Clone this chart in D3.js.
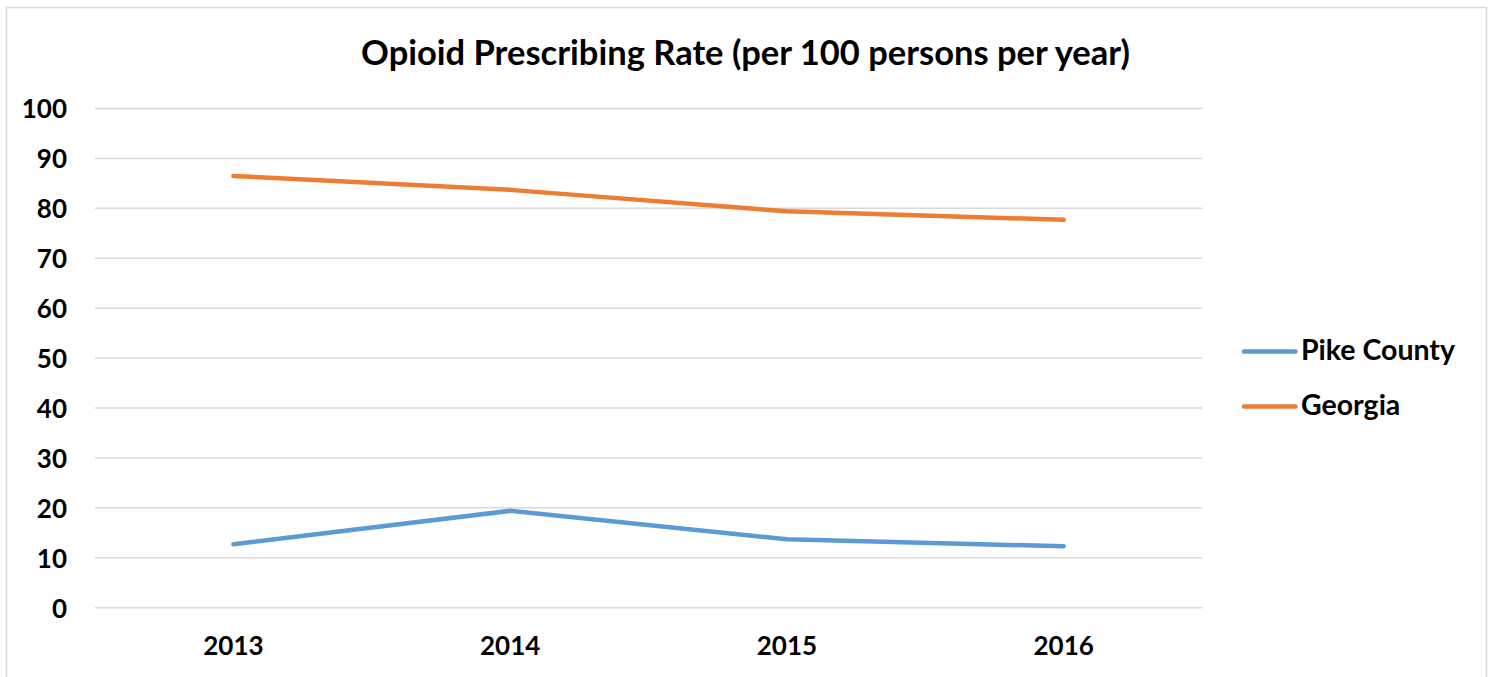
<!DOCTYPE html>
<html><head><meta charset="utf-8">
<script src="https://cdn.jsdelivr.net/npm/d3@7"></script>
<style>body{margin:0;background:#fff;} text{font-family:Lato,"Open Sans",sans-serif;font-weight:bold;fill:#000;}</style>
</head><body>
<svg id="c" width="1494" height="677"></svg>
<script>
const years = ["2013","2014","2015","2016"];
const pikeCounty = [12.7, 19.4, 13.7, 12.3];
const georgia = [86.5, 83.7, 79.4, 77.7];
const yTicks = [0,10,20,30,40,50,60,70,80,90,100];
const seriesNames = ["Pike County","Georgia"];
const seriesColors = ["#5B9BD5","#ED7D31"];
const title = "Opioid Prescribing Rate (per 100 persons per year)";

const svg = d3.select("#c");
svg.append("rect").attr("x",6.5).attr("y",7.5).attr("width",1480).attr("height",700)
  .attr("fill","#fff").attr("stroke","#d9d9d9").attr("stroke-width",1.5);

const x = d3.scaleBand().domain(years).range([95,1202]);
const y = d3.scaleLinear().domain([0,100]).range([607.7,108.5]);

svg.append("text").attr("x",745.5).attr("y",65).attr("text-anchor","middle")
  .style("font-size","34.5px").text(title);

const grid = svg.append("g");
grid.selectAll("line").data(yTicks).join("line")
  .attr("x1",95).attr("x2",1202).attr("y1",d=>y(d)).attr("y2",d=>y(d))
  .attr("stroke","#d9d9d9").attr("stroke-width",1.5);

const yAxis = svg.append("g").attr("transform","translate(95,0)")
  .call(d3.axisLeft(y).tickValues(yTicks).tickSize(0).tickPadding(28));
yAxis.select(".domain").remove();
yAxis.selectAll("text").style("font-size","26px").style("font-family","Lato").style("font-weight","bold").attr("dy","0.36em");

const xAxis = svg.append("g").attr("transform","translate(0,607.7)")
  .call(d3.axisBottom(x).tickSize(0));
xAxis.select(".domain").remove();
xAxis.selectAll("text").style("font-size","26px").style("font-family","Lato").style("font-weight","bold")
  .attr("y",47.3).attr("dy","0");

const line = d3.line().x((d,i)=>x(years[i])+x.bandwidth()/2).y(d=>y(d));
[pikeCounty, georgia].forEach((s,i)=>{
  svg.append("path").attr("d",line(s)).attr("fill","none")
    .attr("stroke",seriesColors[i]).attr("stroke-width",4.5)
    .attr("stroke-linecap","round").attr("stroke-linejoin","round");
});

const leg = svg.append("g");
seriesNames.forEach((n,i)=>{
  const ly = 351.5 + i*55;
  leg.append("line").attr("x1",1244).attr("x2",1295.5).attr("y1",ly).attr("y2",ly)
    .attr("stroke",seriesColors[i]).attr("stroke-width",4.5).attr("stroke-linecap","round");
  leg.append("text").attr("x",1301).attr("y",ly+8.5)
    .style("font-size","28.5px").text(n);
});
</script>
</body></html>
